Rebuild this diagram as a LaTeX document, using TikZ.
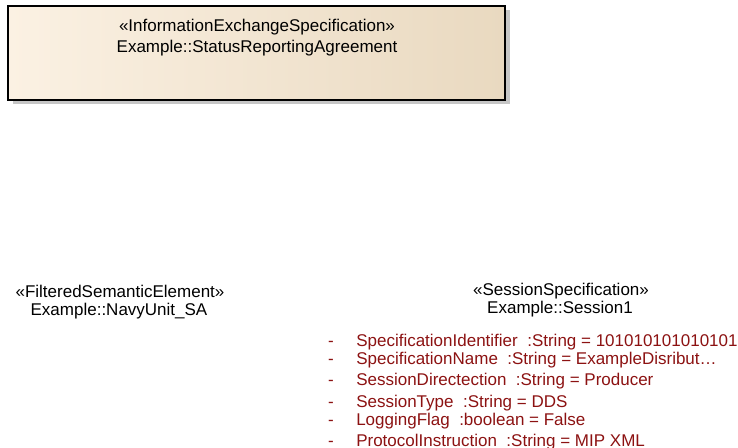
\documentclass[tikz,border=0pt]{standalone}
\usepackage{fontspec}
\setmainfont{Liberation Sans}
\definecolor{boxleft}{RGB}{251,241,227}
\definecolor{boxright}{RGB}{233,217,192}
\definecolor{shadowgrey}{RGB}{198,198,198}
\definecolor{attrred}{RGB}{140,18,18}

\begin{document}
\begin{tikzpicture}[x=0.75pt, y=-0.75pt,
  lbl/.style={font=\fontsize{12.75}{14}\selectfont, inner sep=0pt, anchor=base},
  attr/.style={lbl, text=attrred, anchor=base west},
  bullet/.style={lbl, text=attrred}]
  \useasboundingbox (0,0) rectangle (738,447);

  % the agreement box
  \fill[shadowgrey] (13,10) rectangle (510,104);
  \path[left color=boxleft, right color=boxright, draw=black, line width=1.5pt]
    (8,6) rectangle (505,100);
  \node[lbl] (agreeStereo) at (257,31.5) {«InformationExchangeSpecification»};
  \node[lbl] (agreeName) at (257,52.5) {Example::StatusReportingAgreement};

  % filtered element
  \node[lbl] (navyStereo) at (120,297) {«FilteredSemanticElement»};
  \node[lbl] (navyName) at (119,315) {Example::NavyUnit\_SA};

  % session
  \node[lbl] (sessStereo) at (561,295) {«SessionSpecification»};
  \node[lbl] (sessName) at (560,313.5) {Example::Session1};

  \node[bullet] (d1) at (331,346) {-};
  \node[bullet] (d2) at (331,364) {-};
  \node[bullet] (d3) at (331,385) {-};
  \node[bullet] (d4) at (331,407) {-};
  \node[bullet] (d5) at (331,425) {-};
  \node[bullet] (d6) at (331,446) {-};
  \node[attr] (a1) at (356,346) {SpecificationIdentifier~ :String = 101010101010101};
  \node[attr] (a2) at (356,364) {SpecificationName~ :String = ExampleDisribut…};
  \node[attr] (a3) at (356,385) {SessionDirectection~ :String = Producer};
  \node[attr] (a4) at (356,407) {SessionType~ :String = DDS};
  \node[attr] (a5) at (356,425) {LoggingFlag~ :boolean = False};
  \node[attr] (a6) at (356,446) {ProtocolInstruction~ :String = MIP XML};
\end{tikzpicture}
\end{document}
